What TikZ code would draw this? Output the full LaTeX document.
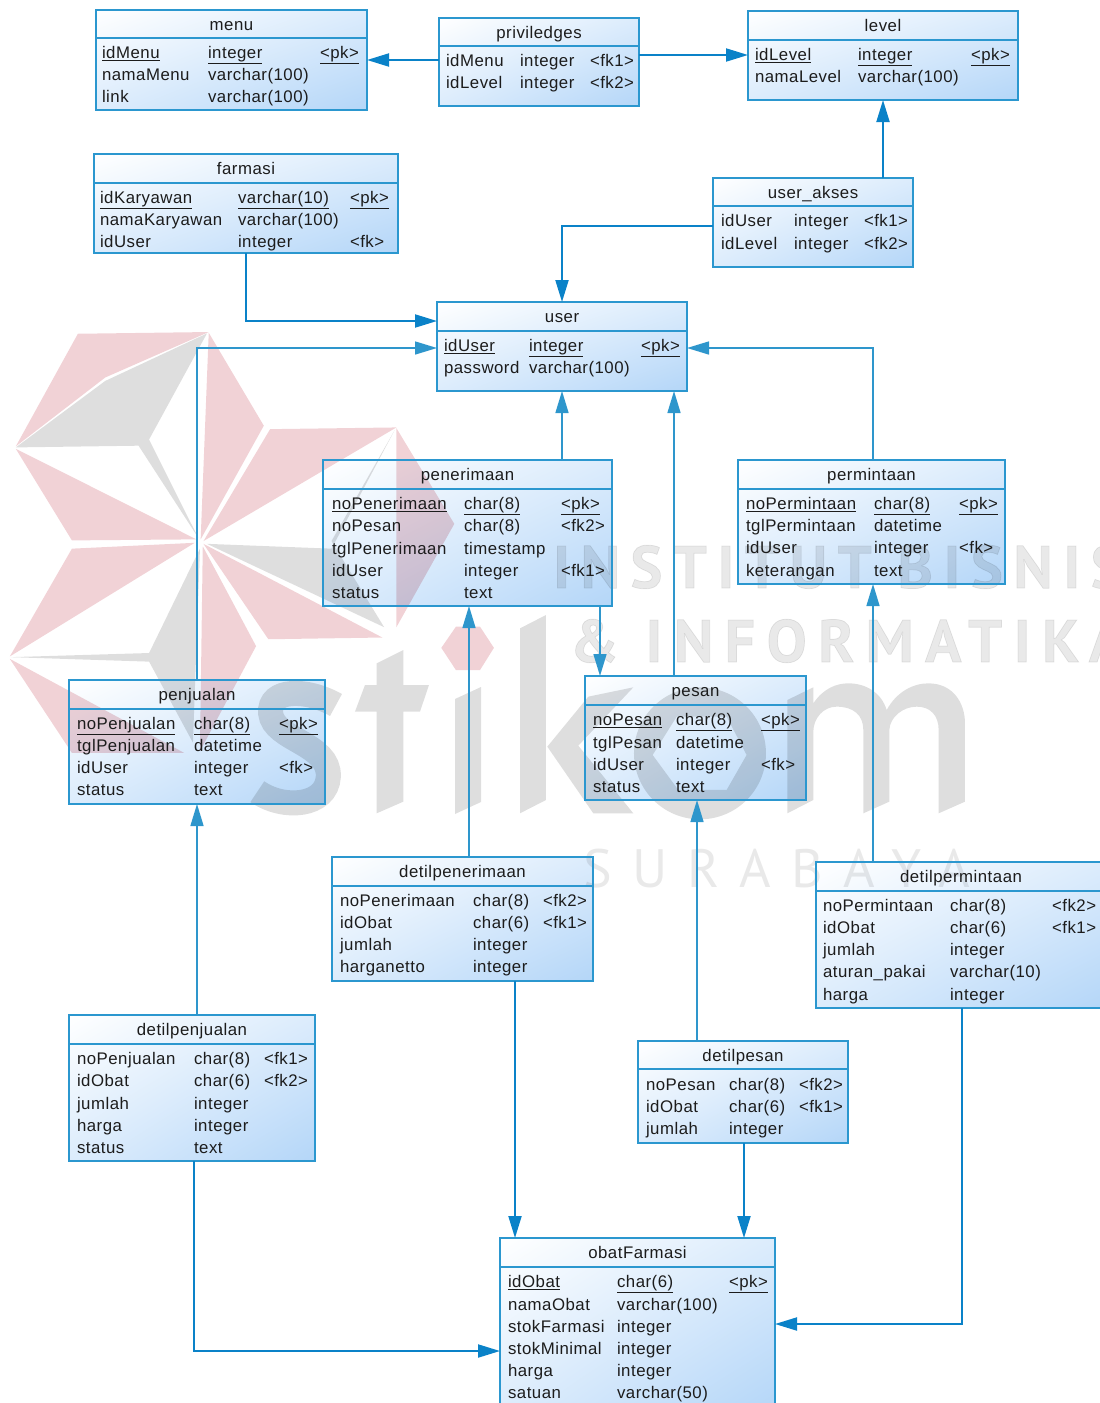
\documentclass[tikz,border=0pt]{standalone}
\usepackage{fontspec}
\setmainfont[LetterSpace=3]{Liberation Sans}
\newfontfamily\wmbold[LetterSpace=17.5,FakeBold=1.2]{PT Sans}
\newfontfamily\wmbolder[LetterSpace=19,FakeBold=1.2]{PT Sans}
\newfontfamily\wmthin[LetterSpace=38]{PT Sans}
\usetikzlibrary{arrows.meta,shadings}
\definecolor{frameblue}{HTML}{2B97CF}
\definecolor{conndark}{HTML}{0A82C8}
\definecolor{connlight}{HTML}{2E96CC}
\definecolor{wmpink}{HTML}{F1D2D6}
\definecolor{wmgrey}{HTML}{DEDEDE}
\definecolor{wmtext}{HTML}{E9E9E9}
\definecolor{cellink}{HTML}{1C1C1C}
\definecolor{gradmid}{HTML}{DCECFC}
\definecolor{gradend}{HTML}{B4D6F8}
\tikzset{
  entity/.style={inner sep=0pt,outer sep=0pt,shade,upper left=white,upper right=gradmid,lower left=gradmid,lower right=gradend},
  frame/.style={draw=frameblue,line width=1.5pt},
  celltext/.style={inner sep=0pt,outer sep=0pt,anchor=base west,text=cellink,font=\fontsize{16.8}{18}\selectfont},
  titletext/.style={inner sep=0pt,outer sep=0pt,anchor=base,text=cellink,font=\fontsize{16.8}{18}\selectfont},
  conn/.style={draw=connlight,line width=1.5pt,-{Triangle[length=22pt,width=13pt,fill=connlight]}},
  conndk/.style={draw=conndark,line width=2pt,-{Triangle[length=22pt,width=13pt,fill=conndark]}},
  wmp/.style={fill=wmpink,draw=none},
  wmg/.style={fill=wmgrey,draw=none},
  wmw/.style={inner sep=0pt,outer sep=0pt,anchor=base west,text=wmtext},
}
\newcount\cellno
\newcommand\ebox[5]{\node[entity,minimum width={(#4-#2)*1pt},minimum height={(#5-#3)*1pt}] (#1) at ({(#2+#4)/2},{(#3+#5)/2}) {};}
\newcommand\eframe[3]{%
  \draw[frame] (#1.north west) rectangle (#1.south east);
  \draw[frame] (#1.west |- 0,#2) -- (#1.east |- 0,#2);
  \node[titletext] (#1title) at ([yshift=-20pt]#1.north) {#3};}
\newcommand\tcell[3]{\global\advance\cellno by 1 \node[celltext] (cell\the\cellno) at (#1,#2+6.3) {#3};}
\newcommand\rowiii[7]{\tcell{#2}{#1}{#3}\tcell{#4}{#1}{#5}\tcell{#6}{#1}{#7}}
\newcommand\rowii[5]{\tcell{#2}{#1}{#3}\tcell{#4}{#1}{#5}}
\newcommand\ul[1]{\underline{#1}}
\begin{document}
\begin{tikzpicture}[x=1pt,y=-1pt]
\useasboundingbox (0,0) rectangle (1100,1403);
% ---------- shaded entity bodies
\ebox{menu}{96}{10}{367}{110}
\ebox{priv}{439}{18}{639}{106}
\ebox{level}{748}{11}{1018}{100}
\ebox{farmasi}{94}{154}{398}{253}
\ebox{akses}{713}{178}{913}{267}
\ebox{user}{437}{302}{687}{391}
\ebox{terima}{323}{460}{612}{606}
\ebox{minta}{738}{460}{1005}{584}
\ebox{jual}{69}{680}{325}{804}
\ebox{pesan}{585}{676}{806}{800}
\ebox{dterima}{332}{857}{593}{981}
\ebox{dminta}{816}{862}{1106}{1008}
\ebox{djual}{69}{1015}{315}{1161}
\ebox{dpesan}{638}{1041}{848}{1143}
\ebox{obat}{500}{1238}{775}{1412}
% ---------- watermark, multiplied over the bodies
\begin{scope}[blend mode=multiply]
\begin{scope}[shift={(0,300)},x=0.3508pt,y=-0.3444pt]
\fill[wmp] (222,98)--(595,93)--(300,225)--(45,425)--cycle;
\fill[wmg] (45,428)--(300,235)--(590,97)--(425,405)--(565,690)--(395,423)--cycle;
\fill[wmp] (595,95)--(752,365)--(572,695)--cycle;
\fill[wmp] (45,432)--(560,695)--(205,698)--cycle;
\fill[wmp] (770,375)--(1130,370)--(580,700)--cycle;
\fill[wmp] (1130,372)--(1295,650)--(1130,950)--cycle;
\fill[wmg] (1125,378)--(945,700)--(1095,950)--(590,708)--(945,722)--cycle;
\fill[wmp] (580,708)--(1090,980)--(765,985)--cycle;
\fill[wmp] (205,722)--(555,705)--(28,1035)--cycle;
\fill[wmg] (570,722)--(425,1025)--(30,1037)--(425,1050)--(550,1285)--cycle;
\fill[wmp] (578,715)--(730,1005)--(570,1310)--cycle;
\fill[wmp] (28,1042)--(525,1315)--(205,1315)--cycle;
\fill[wmp] (1258,1010)--(1300,948)--(1368,948)--(1408,1010)--(1368,1075)--(1300,1075)--cycle;
\end{scope}
% s and t
\begin{scope}[shift={(230,660)},x=0.3333pt,y=-0.3333pt]
\draw[wmgrey,line width=25pt] (318,135) .. controls (230,85) and (115,85) .. (122,160) .. controls (130,240) and (300,250) .. (295,350) .. controls (290,440) and (160,450) .. (82,395);
\fill[wmg] (440,10)--(520,-30)--(520,75)--(597,75)--(570,155)--(520,155)--(520,425)--(440,460)--(440,155)--(375,155)--(405,75)--(440,75)--cycle;
\end{scope}
% i, k, o
\fill[wmg] (455,699)--(481,687)--(481,802)--(455,814)--cycle;
\begin{scope}[shift={(470,600)},x=0.3333pt,y=-0.3333pt]
\fill[wmg] (150,85)--(228,45)--(228,600)--(150,640)--cycle;
\fill[wmg] (355,290)--(490,262)--(325,437)--(490,640)--(370,640)--(232,440)--cycle;
\fill[wmg,even odd rule] (690,460) circle[radius=198] (548,465)--(620,350)--(770,350)--(830,465)--(770,570)--(625,570)--cycle;
\end{scope}
% m
\begin{scope}[shift={(780,660)},x=0.3333pt,y=-0.3333pt]
\fill[wmg] (22,120)--(100,82)--(100,130) .. controls (130,85) and (170,70) .. (205,70) .. controls (260,70) and (305,100) .. (320,150) .. controls (350,95) and (400,70) .. (445,70) .. controls (520,70) and (555,130) .. (555,190)--(555,425)--(476,460)--(476,210) .. controls (476,165) and (450,140) .. (410,140) .. controls (370,140) and (330,170) .. (328,210)--(328,425)--(250,460)--(250,210) .. controls (250,165) and (220,140) .. (170,140) .. controls (130,140) and (100,175) .. (100,215)--(100,420)--(22,460)--cycle;
\end{scope}
\node[wmw] (wm1) at (553,588) {\fontsize{60}{60}\selectfont\wmbold\bfseries INSTITUT BISNIS};
\node[wmw] (wm2) at (570,662) {\fontsize{60}{60}\selectfont\wmbolder\bfseries \& INFORMATIKA};
\node[wmw] (wm3) at (583,887) {\fontsize{54}{54}\selectfont\wmthin SURABAYA};
\end{scope}
% ---------- frames, titles
\eframe{menu}{38}{menu}
\rowiii{52}{102}{\ul{idMenu}}{208}{\ul{integer}}{320}{\ul{<pk>}}
\rowii{74}{102}{namaMenu}{208}{varchar(100)}
\rowii{96}{102}{link}{208}{varchar(100)}
\eframe{priv}{46}{priviledges}
\rowiii{60}{446}{idMenu}{520}{integer}{590}{<fk1>}
\rowiii{82}{446}{idLevel}{520}{integer}{590}{<fk2>}
\eframe{level}{40}{level}
\rowiii{54}{755}{\ul{idLevel}}{858}{\ul{integer}}{971}{\ul{<pk>}}
\rowii{76}{755}{namaLevel}{858}{varchar(100)}
\eframe{farmasi}{183}{farmasi}
\rowiii{197}{100}{\ul{idKaryawan}}{238}{\ul{varchar(10)}}{350}{\ul{<pk>}}
\rowii{219}{100}{namaKaryawan}{238}{varchar(100)}
\rowiii{241}{100}{idUser}{238}{integer}{350}{<fk>}
\eframe{akses}{206}{user\_akses}
\rowiii{220}{721}{idUser}{794}{integer}{864}{<fk1>}
\rowiii{243}{721}{idLevel}{794}{integer}{864}{<fk2>}
\eframe{user}{331}{user}
\rowiii{345}{444}{\ul{idUser}}{529}{\ul{integer}}{641}{\ul{<pk>}}
\rowii{367}{444}{password}{529}{varchar(100)}
\eframe{terima}{489}{penerimaan}
\rowiii{503}{332}{\ul{noPenerimaan}}{464}{\ul{char(8)}}{561}{\ul{<pk>}}
\rowiii{525}{332}{noPesan}{464}{char(8)}{561}{<fk2>}
\rowii{548}{332}{tglPenerimaan}{464}{timestamp}
\rowiii{570}{332}{idUser}{464}{integer}{561}{<fk1>}
\rowii{592}{332}{status}{464}{text}
\eframe{minta}{489}{permintaan}
\rowiii{503}{746}{\ul{noPermintaan}}{874}{\ul{char(8)}}{959}{\ul{<pk>}}
\rowii{525}{746}{tglPermintaan}{874}{datetime}
\rowiii{547}{746}{idUser}{874}{integer}{959}{<fk>}
\rowii{570}{746}{keterangan}{874}{text}
\eframe{jual}{709}{penjualan}
\rowiii{723}{77}{\ul{noPenjualan}}{194}{\ul{char(8)}}{279}{\ul{<pk>}}
\rowii{745}{77}{tglPenjualan}{194}{datetime}
\rowiii{767}{77}{idUser}{194}{integer}{279}{<fk>}
\rowii{789}{77}{status}{194}{text}
\eframe{pesan}{705}{pesan}
\rowiii{719}{593}{\ul{noPesan}}{676}{\ul{char(8)}}{761}{\ul{<pk>}}
\rowii{742}{593}{tglPesan}{676}{datetime}
\rowiii{764}{593}{idUser}{676}{integer}{761}{<fk>}
\rowii{786}{593}{status}{676}{text}
\eframe{dterima}{886}{detilpenerimaan}
\rowiii{900}{340}{noPenerimaan}{473}{char(8)}{543}{<fk2>}
\rowiii{922}{340}{idObat}{473}{char(6)}{543}{<fk1>}
\rowii{944}{340}{jumlah}{473}{integer}
\rowii{966}{340}{harganetto}{473}{integer}
\eframe{dminta}{891}{detilpermintaan}
\rowiii{905}{823}{noPermintaan}{950}{char(8)}{1052}{<fk2>}
\rowiii{927}{823}{idObat}{950}{char(6)}{1052}{<fk1>}
\rowii{949}{823}{jumlah}{950}{integer}
\rowii{971}{823}{aturan\_pakai}{950}{varchar(10)}
\rowii{994}{823}{harga}{950}{integer}
\eframe{djual}{1044}{detilpenjualan}
\rowiii{1058}{77}{noPenjualan}{194}{char(8)}{264}{<fk1>}
\rowiii{1080}{77}{idObat}{194}{char(6)}{264}{<fk2>}
\rowii{1103}{77}{jumlah}{194}{integer}
\rowii{1125}{77}{harga}{194}{integer}
\rowii{1147}{77}{status}{194}{text}
\eframe{dpesan}{1069}{detilpesan}
\rowiii{1084}{646}{noPesan}{729}{char(8)}{799}{<fk2>}
\rowiii{1106}{646}{idObat}{729}{char(6)}{799}{<fk1>}
\rowii{1128}{646}{jumlah}{729}{integer}
\eframe{obat}{1267}{obatFarmasi}
\rowiii{1281}{508}{\ul{idObat}}{617}{\ul{char(6)}}{729}{\ul{<pk>}}
\rowii{1304}{508}{namaObat}{617}{varchar(100)}
\rowii{1326}{508}{stokFarmasi}{617}{integer}
\rowii{1348}{508}{stokMinimal}{617}{integer}
\rowii{1370}{508}{harga}{617}{integer}
\rowii{1392}{508}{satuan}{617}{varchar(50)}
% ---------- connectors
\draw[conndk] (priv.west |- 0,60) -- (menu.east |- 0,60);
\draw[conndk] (priv.east |- 0,55) -- (level.west |- 0,55);
\draw[conndk] (akses.north -| 883,0) -- (level.south -| 883,0);
\draw[conndk] (akses.west |- 0,226) -| (user.north -| 562,0);
\draw[conndk] (farmasi.south -| 246,0) |- (user.west |- 0,321);
\draw[conn] (terima.north -| 562,0) -- (user.south -| 562,0);
\draw[conn] (pesan.north -| 674,0) -- (user.south -| 674,0);
\draw[conn] (minta.north -| 873,0) |- (user.east |- 0,348);
\draw[conn] (jual.north -| 197,0) |- (user.west |- 0,348);
\draw[conn] (terima.south -| 600,0) -- (pesan.north -| 600,0);
\draw[conn] (dterima.north -| 469,0) -- (terima.south -| 469,0);
\draw[conn] (djual.north -| 197,0) -- (jual.south -| 197,0);
\draw[conn] (dpesan.north -| 697,0) -- (pesan.south -| 697,0);
\draw[conn] (dminta.north -| 873,0) -- (minta.south -| 873,0);
\draw[conndk] (dterima.south -| 515,0) -- (obat.north -| 515,0);
\draw[conndk] (dpesan.south -| 744,0) -- (obat.north -| 744,0);
\draw[conndk] (dminta.south -| 962,0) |- (obat.east |- 0,1324);
\draw[conndk] (djual.south -| 194,0) |- (obat.west |- 0,1351);
\end{tikzpicture}
\end{document}
